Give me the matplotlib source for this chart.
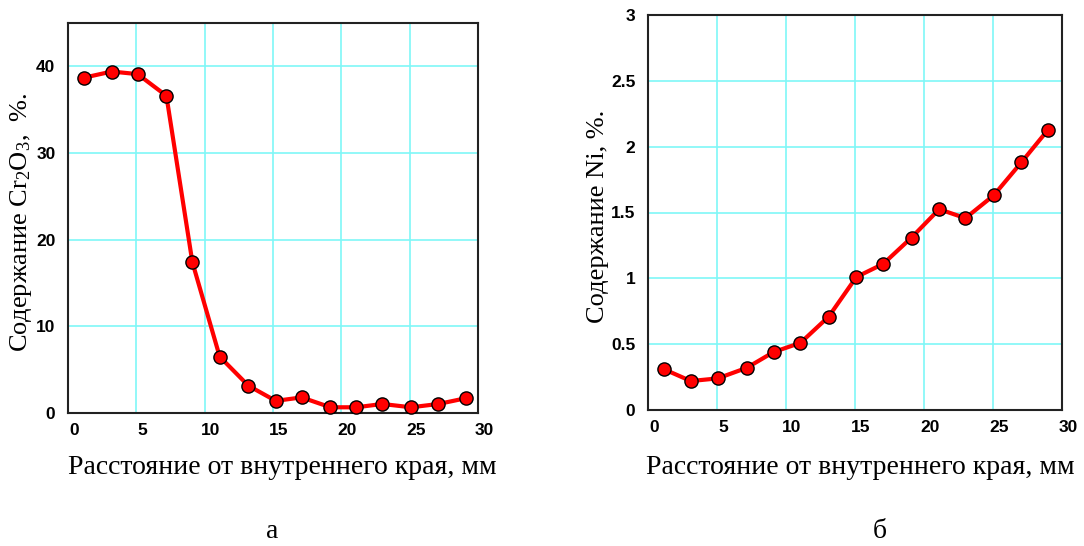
import matplotlib
matplotlib.use("Agg")
import matplotlib.pyplot as plt
import matplotlib.transforms as mtrans

# Data (distance, mm)
dist_a = [1.2, 3.2, 5.1, 7.2, 9.1, 11.1, 13.2, 15.2, 17.1, 19.2, 21.1, 23.0, 25.1, 27.1, 29.1]
cr2o3 = [38.7, 39.4, 39.1, 36.6, 17.4, 6.5, 3.15, 1.4, 1.8, 0.66, 0.66, 1.04, 0.66, 1.04, 1.7]
dist_b = [1.15, 3.1, 5.05, 7.15, 9.1, 11.05, 13.1, 15.1, 17.05, 19.1, 21.1, 23.0, 25.05, 27.05, 29.0]
ni = [0.31, 0.22, 0.24, 0.32, 0.44, 0.51, 0.71, 1.01, 1.11, 1.31, 1.525, 1.457, 1.63, 1.88, 2.13]

x_ticks = [0, 5, 10, 15, 20, 25, 30]
x_tick_labels = ["0", "5", "10", "15", "20", "25", "30"]
cr_ticks = [0, 10, 20, 30, 40]
cr_tick_labels = ["0", "10", "20", "30", "40"]
ni_ticks = [0, 0.5, 1, 1.5, 2, 2.5, 3]
ni_tick_labels = ["0", "0.5", "1", "1.5", "2", "2.5", "3"]

xlabel = "Расстояние от внутреннего края, мм"
ylabel_a = "Содержание Cr$_2$O$_3$,  %."
ylabel_b = "Содержание Ni, %."

plt.rcParams['mathtext.fontset'] = 'custom'
plt.rcParams['mathtext.rm'] = 'Liberation Serif'
plt.rcParams['mathtext.it'] = 'Liberation Serif:italic'

fig = plt.figure(figsize=(10.84, 5.46), dpi=100)
ax1 = fig.add_axes([68/1084, 1-413/546, (478-68)/1084, (413-23)/546])
ax2 = fig.add_axes([648/1084, 1-410/546, (1062-648)/1084, (410-15)/546])

grid_color = "#7ff7f7"
xlabel_fs = 20
ylabel_fs = 19
tick_fs = 12.5

def style(ax, yticks, ylabels, ylim):
    ax.set_xlim(0, 30)
    ax.set_ylim(*ylim)
    ax.set_xticks(x_ticks)
    ax.set_xticklabels(x_tick_labels, fontfamily="Liberation Sans", fontweight="bold", fontsize=tick_fs)
    ax.set_yticks(yticks)
    ax.set_yticklabels(ylabels, fontfamily="Liberation Sans", fontweight="bold", fontsize=tick_fs)
    ax.tick_params(axis="x", length=0, pad=7)
    ax.tick_params(axis="y", length=0, pad=9)
    shift = mtrans.ScaledTranslation(6/100, 0, fig.dpi_scale_trans)
    for lab in ax.get_xticklabels():
        lab.set_transform(lab.get_transform() + shift)
    ax.grid(True, color=grid_color, linewidth=1.2)
    ax.set_axisbelow(True)
    for s in ax.spines.values():
        s.set_color("#222222")
        s.set_linewidth(1.5)

line_kw = dict(color="red", linewidth=3, marker="o", markersize=9.5,
               markerfacecolor="red", markeredgecolor="black", markeredgewidth=1.0,
               zorder=3, clip_on=False)

ax1.plot(dist_a, cr2o3, **line_kw)
style(ax1, cr_ticks, cr_tick_labels, (0, 45))
ax1.set_xlabel(xlabel, fontfamily="Liberation Serif", fontsize=xlabel_fs)
ax1.xaxis.label.set_va("center")
ax1.xaxis.set_label_coords(0.522, -0.14)
ax1.set_ylabel(ylabel_a, fontfamily="Liberation Serif", fontsize=ylabel_fs)
ax1.yaxis.label.set_va("center")
ax1.yaxis.set_label_coords(-0.114, 0.49)

ax2.plot(dist_b, ni, **line_kw)
style(ax2, ni_ticks, ni_tick_labels, (0, 3))
ax2.set_xlabel(xlabel, fontfamily="Liberation Serif", fontsize=xlabel_fs)
ax2.xaxis.label.set_va("center")
ax2.xaxis.set_label_coords(0.512, -0.146)
ax2.set_ylabel(ylabel_b, fontfamily="Liberation Serif", fontsize=ylabel_fs)
ax2.yaxis.label.set_va("center")
ax2.yaxis.set_label_coords(-0.121, 0.49)

fig.text(272/1084, 1-531/546, "а", fontfamily="Liberation Serif", fontsize=xlabel_fs, ha="center", va="center")
fig.text(880/1084, 1-531/546, "б", fontfamily="Liberation Serif", fontsize=xlabel_fs, ha="center", va="center")

fig.savefig("out.png", dpi=100)
